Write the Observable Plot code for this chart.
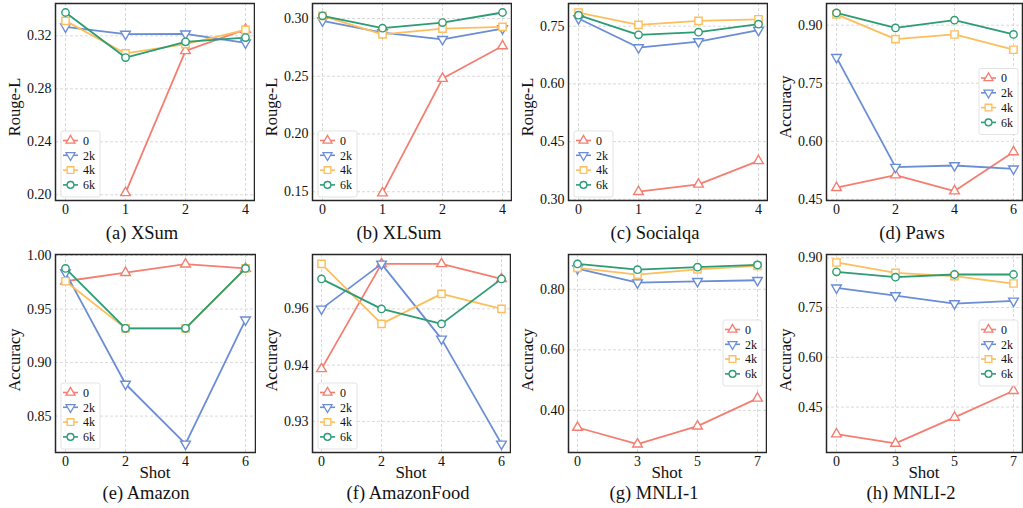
<!DOCTYPE html>
<html>
<head>
<meta charset="utf-8">
<script src="https://cdn.jsdelivr.net/npm/d3@7"></script>
<script src="https://cdn.jsdelivr.net/npm/@observablehq/plot@0.6"></script>
<style>
  html, body { margin: 0; padding: 0; background: #fff; }
  #fig { position: relative; width: 1023px; height: 508px; overflow: hidden; font-family: serif; color: #111; }
  .pnl { position: absolute; }
  .lbl { position: absolute; white-space: nowrap; transform: translate(-50%, -50%); line-height: 1; }
  .ylab { position: absolute; white-space: nowrap; transform: translate(-50%, -50%) rotate(-90deg); line-height: 1; }
</style>
</head>
<body>
<div id="fig"></div>
<script>
// ---------- data ----------
const seriesNames = ["0", "2k", "4k", "6k"];

const shotsSum = ["0", "1", "2", "4"];
const shotsCls = ["0", "2", "4", "6"];
const shotsMnli = ["0", "3", "5", "7"];

const xsum0  = [null, 0.2015, 0.3087, 0.3248];
const xsum2k = [0.3268, 0.3213, 0.3215, 0.3147];
const xsum4k = [0.3313, 0.3067, 0.3137, 0.3245];
const xsum6k = [0.3376, 0.3036, 0.3155, 0.3187];

const xlsum0  = [null, 0.1488, 0.248, 0.2762];
const xlsum2k = [0.298, 0.2878, 0.282, 0.2913];
const xlsum4k = [0.3023, 0.2863, 0.2913, 0.2927];
const xlsum6k = [0.3023, 0.2916, 0.2965, 0.3052];

const social0  = [null, 0.320, 0.339, 0.400];
const social2k = [0.770, 0.6945, 0.710, 0.7396];
const social4k = [0.7855, 0.7535, 0.764, 0.768];
const social6k = [0.7786, 0.7275, 0.7344, 0.7552];

const paws0  = [0.480, 0.5126, 0.4714, 0.5726];
const paws2k = [0.8169, 0.5331, 0.5374, 0.5289];
const paws4k = [0.928, 0.864, 0.876, 0.8366];
const paws6k = [0.9317, 0.893, 0.9129, 0.876];

const amazon0  = [0.976, 0.984, 0.992, 0.988];
const amazon2k = [0.984, 0.880, 0.824, 0.940];
const amazon4k = [0.976, 0.932, 0.932, 0.988];
const amazon6k = [0.988, 0.932, 0.932, 0.988];

const food0  = [0.944, 0.972, 0.972, 0.968];
const food2k = [0.960, 0.972, 0.952, 0.924];
const food4k = [0.972, 0.956, 0.964, 0.960];
const food6k = [0.968, 0.960, 0.956, 0.968];

const mnli1_0  = [0.3436, 0.2884, 0.348, 0.4398];
const mnli1_2k = [0.8685, 0.822, 0.8265, 0.830];
const mnli1_4k = [0.8707, 0.8486, 0.866, 0.8773];
const mnli1_6k = [0.884, 0.865, 0.873, 0.8807];

const mnli2_0  = [0.3685, 0.3403, 0.4188, 0.4993];
const mnli2_2k = [0.8094, 0.7862, 0.762, 0.770];
const mnli2_4k = [0.886, 0.8547, 0.8446, 0.8225];
const mnli2_6k = [0.8577, 0.8416, 0.8497, 0.8497];

// y tick values and labels
const ticksA = [0.20, 0.24, 0.28, 0.32], labelsA = ["0.20", "0.24", "0.28", "0.32"];
const ticksB = [0.15, 0.20, 0.25, 0.30], labelsB = ["0.15", "0.20", "0.25", "0.30"];
const ticksC = [0.30, 0.45, 0.60, 0.75], labelsC = ["0.30", "0.45", "0.60", "0.75"];
const ticksD = [0.45, 0.60, 0.75, 0.90], labelsD = ["0.45", "0.60", "0.75", "0.90"];
const ticksE = [0.85, 0.90, 0.95, 1.00], labelsE = ["0.85", "0.90", "0.95", "1.00"];
const ticksF = [0.93, 0.945, 0.96], labelsF = ["0.93", "0.94", "0.96"];
const ticksG = [0.40, 0.60, 0.80], labelsG = ["0.40", "0.60", "0.80"];
const ticksH = [0.45, 0.60, 0.75, 0.90], labelsH = ["0.45", "0.60", "0.75", "0.90"];

const captions = ["(a) XSum", "(b) XLSum", "(c) Socialqa", "(d) Paws", "(e) Amazon", "(f) AmazonFood", "(g) MNLI-1", "(h) MNLI-2"];
const yTitles = ["Rouge-L", "Rouge-L", "Rouge-L", "Accuracy", "Accuracy", "Accuracy", "Accuracy", "Accuracy"];

// ---------- styling ----------
const FONT = "Liberation Serif";
const colors = ["#F47E71", "#6B8DD6", "#FDBE5C", "#2C9C74"];
const sqrt3 = Math.sqrt(3);
const triUp = d3.symbolTriangle;
const triDown = {
  draw(ctx, size) {
    const y = -Math.sqrt(size / (sqrt3 * 3));
    ctx.moveTo(0, -y * 2);
    ctx.lineTo(-sqrt3 * y, y);
    ctx.lineTo(sqrt3 * y, y);
    ctx.closePath();
  }
};
const symbols = [triUp, triDown, d3.symbolSquare, d3.symbolCircle];
const radii = [3.6, 3.6, 4.1, 3.7];

const panels = [
  {shots: shotsSum, series: [xsum0, xsum2k, xsum4k, xsum6k], ticks: ticksA, labels: labelsA, dom: [0.1957, 0.3444], fx: [55, 254], row: 0, leg: "ll", capX: 142},
  {shots: shotsSum, series: [xlsum0, xlsum2k, xlsum4k, xlsum6k], ticks: ticksB, labels: labelsB, dom: [0.1424, 0.313], fx: [312, 511], row: 0, leg: "ll", capX: 399},
  {shots: shotsSum, series: [social0, social2k, social4k, social6k], ticks: ticksC, labels: labelsC, dom: [0.297, 0.809], fx: [568, 767], row: 0, leg: "ll", capX: 655},
  {shots: shotsCls, series: [paws0, paws2k, paws4k, paws6k], ticks: ticksD, labels: labelsD, dom: [0.447, 0.956], fx: [826, 1022], row: 0, leg: "r", capX: 912},
  {shots: shotsCls, series: [amazon0, amazon2k, amazon4k, amazon6k], ticks: ticksE, labels: labelsE, dom: [0.816, 1.001], fx: [55, 255], row: 1, leg: "ll", capX: 146},
  {shots: shotsCls, series: [food0, food2k, food4k, food6k], ticks: ticksF, labels: labelsF, dom: [0.9217, 0.9745], fx: [312, 510], row: 1, leg: "ll", capX: 408},
  {shots: shotsMnli, series: [mnli1_0, mnli1_2k, mnli1_4k, mnli1_6k], ticks: ticksG, labels: labelsG, dom: [0.261, 0.915], fx: [568, 766], row: 1, leg: "r", capX: 654},
  {shots: shotsMnli, series: [mnli2_0, mnli2_2k, mnli2_4k, mnli2_6k], ticks: ticksH, labels: labelsH, dom: [0.313, 0.910], fx: [826, 1022], row: 1, leg: "r", capX: 911}
];

const rows = [
  {svgTop: 0, mTop: 3, frameH: 197, mBottom: 20, capY: 233, ylabY: 107},
  {svgTop: 244, mTop: 10, frameH: 198, mBottom: 20, capY: 493, ylabY: 360}
];

const fig = document.getElementById("fig");
const mLeft = 50, mRight = 1;

function addDiv(cls, text, x, y, size) {
  const el = document.createElement("div");
  el.className = cls;
  el.textContent = text;
  el.style.left = x + "px";
  el.style.top = y + "px";
  el.style.fontFamily = FONT;
  el.style.fontSize = size + "px";
  fig.appendChild(el);
}

panels.forEach((p, i) => {
  const r = rows[p.row];
  const frameW = p.fx[1] - p.fx[0];
  const width = frameW + mLeft + mRight;
  const height = r.mTop + r.frameH + r.mBottom;
  const marks = [
    Plot.gridX({stroke: "#cfcfcf", strokeOpacity: 1, strokeWidth: 0.8, strokeDasharray: "3,2"}),
    Plot.gridY(p.ticks, {stroke: "#cfcfcf", strokeOpacity: 1, strokeWidth: 0.8, strokeDasharray: "3,2"}),
    Plot.axisX({tickSize: 0, tickPadding: 4, label: null, fontSize: 14}),
    Plot.axisY(p.ticks, {tickSize: 0, tickPadding: 4, label: null, fontSize: 14, tickFormat: d => p.labels[p.ticks.indexOf(d)]})
  ];
  p.series.forEach((vals, k) => {
    const data = vals.map((v, j) => ({x: p.shots[j], y: v})).filter(d => d.y != null);
    marks.push(Plot.line(data, {x: "x", y: "y", stroke: colors[k], strokeWidth: 1.8}));
    marks.push(Plot.dot(data, {x: "x", y: "y", symbol: symbols[k], r: radii[k], stroke: colors[k], fill: "white", strokeWidth: 1.4}));
  });
  marks.push(Plot.frame({stroke: "#262626", strokeWidth: 1.5}));

  const svg = Plot.plot({
    width, height,
    marginLeft: mLeft, marginRight: mRight, marginTop: r.mTop, marginBottom: r.mBottom,
    style: {fontSize: "14px", color: "#111", background: "transparent"},
    x: {type: "point", domain: p.shots, padding: 0.14},
    y: {domain: p.dom},
    marks
  });
  svg.classList.add("pnl");
  svg.style.left = (p.fx[0] - mLeft) + "px";
  svg.style.top = r.svgTop + "px";
  svg.style.maxWidth = "none";
  fig.appendChild(svg);

  // legend
  const boxW = 39, boxH = 66;
  let bx, by;
  if (p.leg === "ll") { bx = mLeft + 6; by = r.mTop + r.frameH - 3 - boxH; }
  else { bx = mLeft + frameW - 4 - boxW; by = r.mTop + r.frameH / 2 - boxH / 2; }
  const g = d3.select(svg).append("g").attr("transform", `translate(${bx},${by})`);
  g.append("rect").attr("width", boxW).attr("height", boxH).attr("rx", 2)
    .attr("fill", "white").attr("fill-opacity", 0.85).attr("stroke", "#dcdcdc").attr("stroke-width", 0.8);
  seriesNames.forEach((name, k) => {
    const yy = 9.5 + k * 14.8;
    g.append("line").attr("x1", 2).attr("x2", 17).attr("y1", yy).attr("y2", yy)
      .attr("stroke", colors[k]).attr("stroke-width", 1.6);
    g.append("path").attr("d", d3.symbol(symbols[k], radii[k] * radii[k] * Math.PI * 0.85)())
      .attr("transform", `translate(9.5,${yy})`).attr("fill", "white").attr("stroke", colors[k]).attr("stroke-width", 1.3);
    g.append("text").attr("x", 22).attr("y", yy).attr("dy", "0.35em").attr("text-anchor", "start")
      .attr("font-size", 12).attr("fill", "#111").text(name);
  });

  // force serif font on every text element of the svg
  svg.setAttribute("font-family", FONT);
  svg.style.fontFamily = FONT;
  svg.querySelectorAll("g, text").forEach(t => { t.setAttribute("font-family", FONT); t.style.fontFamily = FONT; });

  addDiv("ylab", yTitles[i], p.fx[0] - 40, r.ylabY, 16.5);
  addDiv("lbl", captions[i], p.capX, r.capY, 18.5);
  if (p.row === 1) addDiv("lbl", "Shot", (p.fx[0] + p.fx[1]) / 2, 472, 17);
});
</script>
</body>
</html>
